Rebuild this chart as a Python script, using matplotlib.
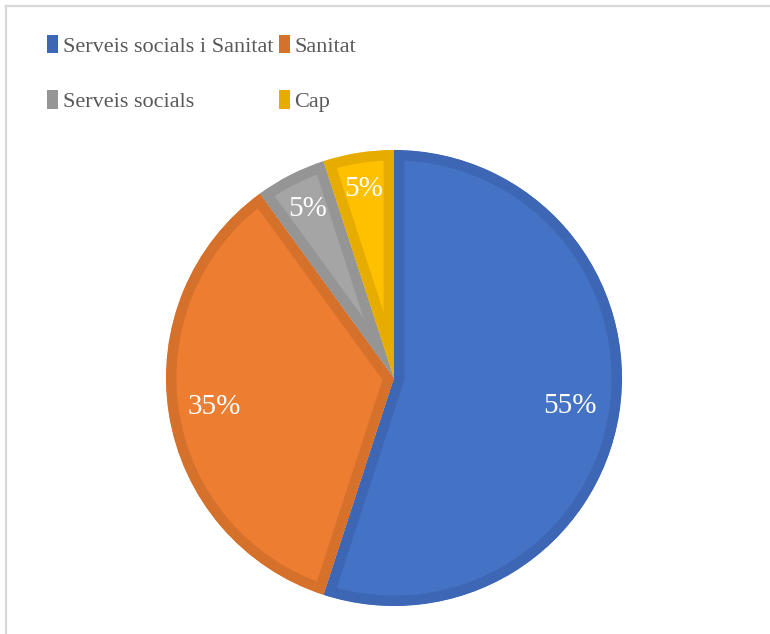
import matplotlib
matplotlib.use("Agg")
import matplotlib.pyplot as plt
import numpy as np
from matplotlib.patches import Patch
from matplotlib.lines import Line2D

labels = ['Serveis socials i Sanitat', 'Sanitat', 'Serveis socials', 'Cap']
values = [55, 35, 5, 5]
fill_colors = ['#4472C4', '#ED7D31', '#A5A5A5', '#FFC000']
edge_colors = ['#3D67B5', '#D6712C', '#959595', '#E6AD00']
pct_dist = [0.78, 0.80, 0.83, 0.84]

plt.rcParams['font.family'] = ['Liberation Serif', 'DejaVu Serif']

W, H = 770, 634
fig = plt.figure(figsize=(W / 100, H / 100), dpi=100)

# pie centred at (394, 378) px, radius 228 px
cx, cy, r = 394, 378, 228
ax = fig.add_axes([(cx - r) / W, (H - cy - r) / H, 2 * r / W, 2 * r / H])

wedges, texts = ax.pie(values, colors=fill_colors, startangle=90,
                       counterclock=False, radius=1)
for w, ec in zip(wedges, edge_colors):
    w.set_edgecolor(ec)
    w.set_linewidth(15)
    w.set_joinstyle('miter')
    w.set_clip_path(w)  # keep only the inner half of the stroke
    w.set_clip_on(True)

# percentage labels
angle = 90.0
total = sum(values)
for v, d in zip(values, pct_dist):
    span = 360.0 * v / total
    mid = np.deg2rad(angle - span / 2)
    ax.text(d * np.cos(mid), d * np.sin(mid), f'{v}%', color='white',
            fontsize=21, ha='center', va='center')
    angle -= span

ax.set_xlim(-1, 1)
ax.set_ylim(-1, 1)
ax.axis('off')

# legend filled row by row like the original
order = [0, 2, 1, 3]
handles = [Patch(facecolor=edge_colors[i], edgecolor='none') for i in order]
fig.legend(handles, [labels[i] for i in order], ncol=2, loc='upper left',
           bbox_to_anchor=(47 / W, 1 - 35 / H), frameon=False,
           fontsize=16, labelcolor='#595959',
           handlelength=0.5, handleheight=0.9, handletextpad=0.2,
           columnspacing=0.25, labelspacing=1.5, borderaxespad=0,
           borderpad=0)

# light frame (top and left edges visible)
fig.add_artist(Line2D([6 / W, 1], [1 - 6 / H, 1 - 6 / H], color='#D9D9D9',
                      lw=1.6, transform=fig.transFigure))
fig.add_artist(Line2D([6 / W, 6 / W], [0, 1 - 6 / H], color='#D9D9D9',
                      lw=1.6, transform=fig.transFigure))

fig.savefig('out.png', dpi=100)
